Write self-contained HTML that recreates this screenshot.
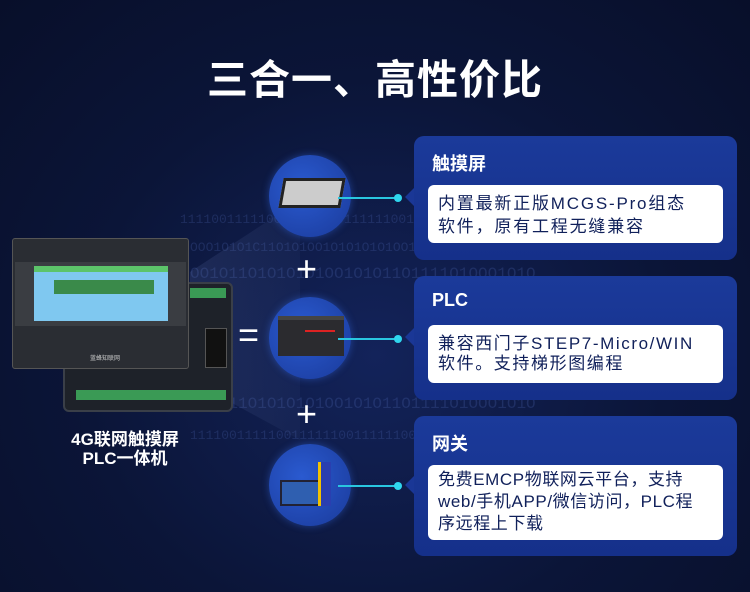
<!DOCTYPE html>
<html><head><meta charset="utf-8"><style>
*{margin:0;padding:0;box-sizing:border-box}
body{width:750px;height:592px;overflow:hidden;background:radial-gradient(ellipse at 50% 60%,#13235a 0%,#0b1538 55%,#080f2a 100%);font-family:"Liberation Sans","Noto Sans CJK SC",sans-serif;position:relative;color:#fff}
.abs{position:absolute}
.title{left:0;width:750px;top:46px;text-align:center;font-size:41px;font-weight:bold;letter-spacing:1px}
.panel{left:414px;width:323px;background:linear-gradient(180deg,#1b3a9a,#15308a);border-radius:10px}
.panel:before{content:"";position:absolute;left:-9px;top:var(--n);border:9px solid transparent;border-left:0;border-right-color:#1a3796}
.ph{position:absolute;left:18px;top:14px;font-size:18px;font-weight:bold}
.box{position:absolute;left:14px;right:14px;background:#fff;border-radius:6px;color:#10205a;font-size:17px;line-height:23px;padding:7px 10px;letter-spacing:1.8px;white-space:nowrap}
.circ{width:82px;height:82px;border-radius:50%;background:radial-gradient(circle at 40% 40%,#2a5ad0,#1a3a9a);box-shadow:0 0 8px rgba(60,120,255,.4)}
.line{height:2px;background:#29c6e0;width:60px}
.dot{width:8px;height:8px;border-radius:50%;background:#2fd6ee}
.plus{font-size:36px;color:#fff;font-weight:normal}
.bits{color:rgba(90,120,200,.22);font-family:"Liberation Mono",monospace;font-size:13px;white-space:nowrap;overflow:hidden}
</style></head><body>
<div class="abs bits" style="left:180px;top:212px;width:420px">1111001111100111111001111110011111100111</div>
<div class="abs bits" style="left:190px;top:240px;width:420px">OOO1O1O1C11O1O1OO1O1O1O1O1OO1O1OO1</div>
<div class="abs bits" style="left:190px;top:265px;width:420px;font-size:16px">OO1O11O1O1O1O1OO1O1O11O1111O1OOO1O1O</div>
<div class="abs bits" style="left:190px;top:395px;width:420px;font-size:16px">OO1O11O1O1O1O1OO1O1O11O1111O1OOO1O1O</div>
<div class="abs bits" style="left:190px;top:428px;width:420px">1111001111100111111001111110011111100111</div>
<div class="abs" style="left:190px;top:200px;width:110px;height:240px;background:linear-gradient(90deg,rgba(120,140,200,.15),rgba(120,140,200,.05));clip-path:polygon(0 30%,100% 0,100% 100%,0 75%)"></div>
<div class="abs title">三合一、高性价比</div>

<div class="abs" style="left:63px;top:282px;width:170px;height:130px;background:#1e2229;border:2px solid #3a3f48;border-radius:6px"></div>
<div class="abs" style="left:190px;top:288px;width:36px;height:10px;background:#3a9a55"></div>
<div class="abs" style="left:205px;top:328px;width:22px;height:40px;background:#111;border:1px solid #555"></div>
<div class="abs" style="left:76px;top:390px;width:150px;height:10px;background:#3a9a55"></div>
<div class="abs" style="left:12px;top:238px;width:177px;height:131px;background:#2a2d33;border:1px solid #555;border-radius:3px"></div>
<div class="abs" style="left:15px;top:262px;width:171px;height:64px;background:#3a3d42"></div>
<div class="abs" style="left:34px;top:266px;width:134px;height:55px;background:#7fc8f0;border-top:6px solid #5cc46a"></div>
<div class="abs" style="left:54px;top:280px;width:100px;height:14px;background:#3a8a4a"></div>
<div class="abs" style="left:90px;top:353px;font-size:6px;color:#ccc">蓝蜂知联网</div>

<div class="abs" style="left:40px;top:430px;width:170px;text-align:center;font-size:17px;font-weight:bold;line-height:19px">4G联网触摸屏<br>PLC一体机</div>
<div class="abs" style="left:238px;top:314px;font-size:36px">=</div>
<div class="abs plus" style="left:296px;top:248px">+</div>
<div class="abs plus" style="left:296px;top:393px">+</div>

<div class="abs circ" style="left:269px;top:155px"></div>
<div class="abs" style="left:281px;top:178px;width:62px;height:30px;background:#ccc;border:3px solid #222;transform:skewX(-10deg)"></div>
<div class="abs circ" style="left:269px;top:297px"></div>
<div class="abs" style="left:278px;top:316px;width:66px;height:40px;background:#2b2b2f;border-top:4px solid #444"></div>
<div class="abs" style="left:305px;top:330px;width:30px;height:2px;background:#d22"></div>
<div class="abs circ" style="left:269px;top:444px"></div>
<div class="abs" style="left:280px;top:480px;width:40px;height:26px;background:#2f5fb0;border:2px solid #223"></div>
<div class="abs" style="left:318px;top:462px;width:13px;height:44px;background:#2a3fb0;border-left:3px solid #f2c200"></div>

<div class="abs line" style="left:338px;top:197px"></div>
<div class="abs dot" style="left:394px;top:194px"></div>
<div class="abs line" style="left:338px;top:338px"></div>
<div class="abs dot" style="left:394px;top:335px"></div>
<div class="abs line" style="left:338px;top:485px"></div>
<div class="abs dot" style="left:394px;top:482px"></div>

<div class="abs panel" style="top:136px;height:124px;--n:52px"><div class="ph">触摸屏</div>
<div class="box" style="top:49px;height:58px">内置最新正版MCGS-Pro组态<br>软件，原有工程无缝兼容</div></div>
<div class="abs panel" style="top:276px;height:124px;--n:52px"><div class="ph">PLC</div>
<div class="box" style="top:49px;height:58px;line-height:20px;padding-top:9px;letter-spacing:1.6px">兼容西门子STEP7-Micro/WIN<br>软件。支持梯形图编程</div></div>
<div class="abs panel" style="top:416px;height:140px;--n:60px"><div class="ph">网关</div>
<div class="box" style="top:49px;height:75px;line-height:22px;padding-top:4px;letter-spacing:0.6px">免费EMCP物联网云平台，支持<br>web/手机APP/微信访问，PLC程<br>序远程上下载</div></div>
</body></html>
